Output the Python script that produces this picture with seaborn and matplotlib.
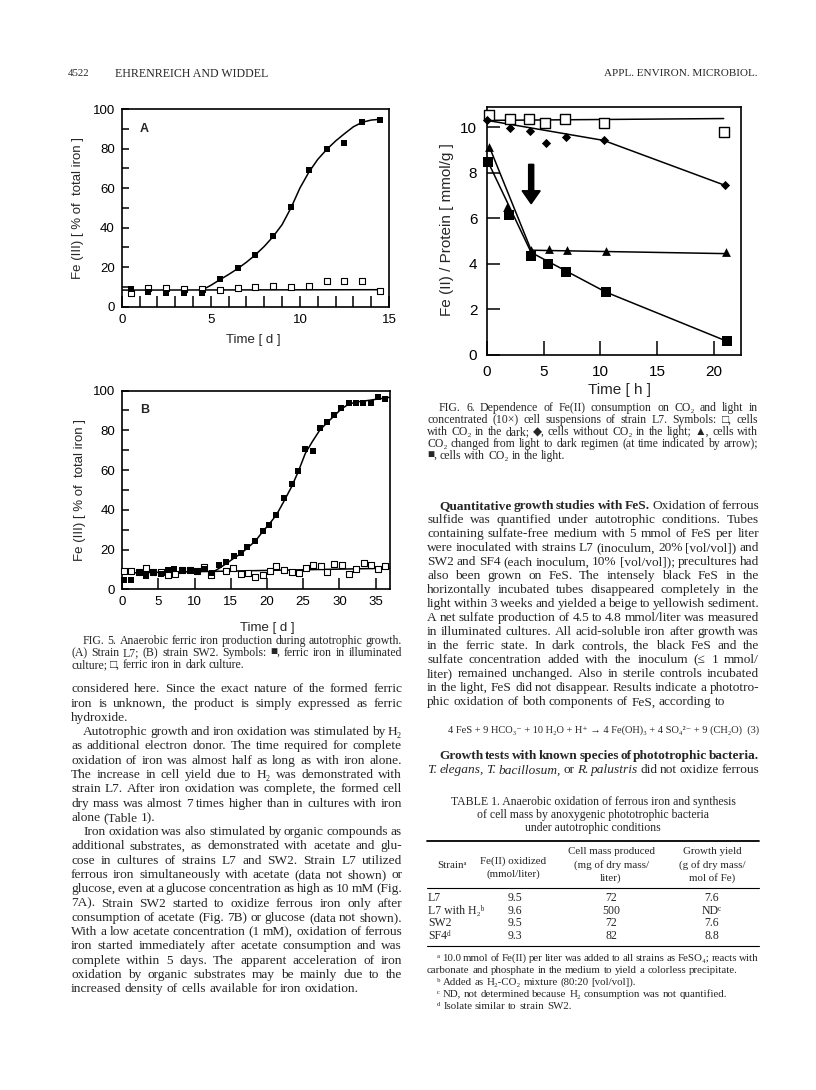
import matplotlib
matplotlib.use("Agg")
import matplotlib.pyplot as plt
import seaborn as sns

# ---- Fig. 5A: strain L7 (days, % Fe(III)) ----
a_days = [0.5, 1.5, 2.5, 3.5, 4.5, 5.5, 6.5, 7.5, 8.5, 9.5, 10.5, 11.5, 12.5, 13.5, 14.5]
a_light = [9.1, 7.4, 7.1, 6.9, 7.1, 14.0, 19.4, 26.4, 36.0, 50.2, 69.3, 79.6, 82.9, 93.4, 94.4]
a_dark = [7.1, 9.6, 9.6, 8.8, 8.8, 8.4, 9.6, 10.1, 10.6, 10.1, 10.6, 13.0, 13.0, 13.0, 8.1]
a_curve_x = [4.5, 5.0, 5.5, 6.0, 6.5, 7.0, 7.5, 8.0, 8.5, 9.0, 9.5, 10.0, 10.5, 11.0,
             11.5, 12.0, 12.5, 13.0, 13.5, 14.0, 14.5]
a_curve_y = [8.4, 10.8, 13.6, 16.3, 19.2, 22.5, 26.2, 30.5, 35.5, 41.5, 50.0, 60.0, 68.0,
             74.5, 79.5, 83.8, 87.5, 91.0, 93.3, 94.4, 94.8]
a_flat_x = [0.0, 14.5]
a_flat_y = [8.4, 8.6]

# ---- Fig. 5B: strain SW2 ----
b_light_x = [0.2, 1.25, 2.3, 3.3, 4.3, 5.3, 6.3, 7.2, 8.3, 9.4, 10.4, 11.4, 12.4, 13.4,
             14.3, 15.4, 16.4, 17.2, 18.4, 19.4, 20.3, 21.3, 22.3, 23.4, 24.3, 25.3,
             26.3, 27.3, 28.3, 29.3, 30.2, 31.3, 32.3, 33.3, 34.4, 35.3, 36.3]
b_light_y = [4.5, 4.5, 8.4, 6.7, 8.7, 7.7, 9.7, 10.2, 9.9, 9.9, 9.2, 10.0, 8.4, 12.1,
             13.9, 16.6, 18.1, 21.1, 24.5, 29.3, 32.3, 37.4, 46.1, 52.8, 59.7, 70.4,
             69.4, 81.1, 84.0, 87.7, 91.1, 93.6, 93.6, 93.6, 93.6, 96.6, 95.9]
b_dark_x = [0.2, 1.25, 2.3, 3.3, 4.3, 5.3, 6.3, 7.3, 8.3, 9.3, 10.3, 11.3, 12.3, 14.3,
            15.3, 16.4, 17.4, 18.4, 19.4, 20.4, 21.3, 22.3, 23.4, 24.4, 25.4, 26.4,
            27.4, 28.3, 29.3, 30.3, 31.3, 32.3, 33.4, 34.4, 35.4, 36.3]
b_dark_y = [9.0, 9.2, 8.9, 10.9, 8.5, 8.7, 7.2, 7.9, 9.6, 9.6, 9.3, 11.0, 7.3, 9.0,
            10.9, 7.9, 8.4, 6.3, 7.2, 9.2, 11.9, 9.9, 8.7, 8.0, 10.6, 12.4,
            11.5, 8.5, 12.5, 12.3, 7.9, 10.2, 13.1, 12.2, 10.4, 11.9]
b_curve_x = [12.4, 13.4, 14.4, 15.4, 16.4, 17.3, 18.4, 19.4, 20.3, 21.3, 22.3, 23.4,
             24.3, 25.3, 26.3, 27.3, 28.3, 29.3, 30.2, 31.3, 32.5, 34.0, 35.5, 37.0]
b_curve_y = [8.4, 10.6, 13.0, 15.6, 18.0, 20.8, 24.3, 29.0, 32.8, 37.4, 44.0, 51.6,
             59.0, 68.4, 74.5, 80.1, 83.8, 87.3, 90.5, 93.2, 94.3, 95.0, 95.8, 96.6]
b_flat_x = [0.0, 37.0]
b_flat_y = [8.2, 10.6]

# ---- Fig. 6: Fe(II)/protein (hours) ----
f6_dark_x = [0.15, 2.0, 3.7, 5.15, 6.9, 10.35, 20.9]
f6_dark_y = [10.54, 10.35, 10.35, 10.2, 10.35, 10.2, 9.8]
f6_dark_line_x = [0.15, 20.9]
f6_dark_line_y = [10.3, 10.38]
f6_noco2_x = [0.0, 2.0, 3.76, 5.2, 6.97, 10.3, 21.0]
f6_noco2_y = [10.3, 9.97, 9.85, 9.3, 9.56, 9.42, 7.45]
f6_noco2_line_x = [0.0, 10.3, 21.0]
f6_noco2_line_y = [10.3, 9.42, 7.45]
f6_switch_x = [0.18, 1.8, 3.9, 5.5, 7.06, 10.5, 21.1]
f6_switch_y = [9.15, 6.5, 4.6, 4.65, 4.6, 4.57, 4.5]
f6_switch_line_x = [0.2, 3.9, 21.1]
f6_switch_line_y = [9.15, 4.6, 4.45]
f6_light_x = [0.1, 1.9, 3.9, 5.4, 7.0, 10.5, 21.2]
f6_light_y = [8.47, 6.13, 4.35, 3.99, 3.64, 2.76, 0.61]
f6_light_line_x = [0.1, 3.9, 10.5, 21.2]
f6_light_line_y = [8.47, 4.5, 2.76, 0.6]
arrow_x = 3.9
arrow_y = [8.37, 6.64]

# ---- Table 1 ----
t_strain = ["L7", "L7 with H\u2082\u1d47", "SW2", "SF4\u1d48"]
t_fe = ["9.5", "9.6", "9.5", "9.3"]
t_mass = ["72", "500", "72", "82"]
t_yield = ["7.6", "ND\u1d9c", "7.6", "8.8"]

W, H, DPI = 816, 1090, 100
SANS = ["Liberation Sans", "DejaVu Sans"]
SERIF = ["Liberation Serif", "DejaVu Serif", "DejaVu Sans"]

sns.set_theme(style="ticks")
plt.rcParams["font.family"] = SANS
plt.rcParams["axes.linewidth"] = 1.2

fig = plt.figure(figsize=(W / DPI, H / DPI), dpi=DPI)
fig.patch.set_facecolor("white")
R = fig.canvas.get_renderer()


def box(l, t, r, b):
    return [l / W, 1 - b / H, (r - l) / W, (b - t) / H]


def txt(x, y, s, size, **kw):
    kw.setdefault("family", SERIF)
    return fig.text(x / W, 1 - y / H, s, fontsize=size, **kw)


def frame(ax, labelsize, pad):
    for s in ax.spines.values():
        s.set_color("black")
        s.set_linewidth(1.2)
    ax.tick_params(which="both", direction="in", colors="black", width=1.1,
                   labelsize=labelsize, pad=pad, top=False, right=False)
    ax.set_xlabel("")
    ax.set_ylabel("")
    ax.set_facecolor("white")


def fill_sq(ax, x, y, s):
    sns.scatterplot(x=x, y=y, marker="s", color="black", s=s, linewidth=0,
                    ax=ax, clip_on=False, zorder=3)


def open_sq(ax, x, y, s):
    sns.scatterplot(x=x, y=y, marker="s", facecolor="white", edgecolor="black",
                    s=s, linewidth=0.8, ax=ax, clip_on=False, zorder=3)


def line(ax, x, y):
    sns.lineplot(x=x, y=y, color="black", lw=1.1, sort=False, estimator=None,
                 ax=ax, zorder=2)


# ---------- Fig 5A ----------
axA = fig.add_axes(box(121.7, 109, 389, 306.7))
line(axA, a_flat_x, a_flat_y)
line(axA, a_curve_x, a_curve_y)
open_sq(axA, a_days, a_dark, 16)
fill_sq(axA, a_days, a_light, 22)
axA.set_xlim(0, 15)
axA.set_ylim(0, 100)
axA.set_xticks([0, 5, 10, 15])
axA.set_xticks(range(1, 15), minor=True)
axA.set_yticks(range(0, 101, 20))
axA.set_yticks(range(10, 100, 20), minor=True)
frame(axA, 9.5, 5)
axA.tick_params(axis="x", which="both", length=8)
axA.tick_params(axis="y", which="both", length=5)
axA.text(0.085, 0.9, "A", transform=axA.transAxes, fontsize=9, weight="bold",
         ha="center", va="center")
txt(253, 340, "Time [ d ]", 9.5, family=SANS, ha="center", va="center")
txt(78, 208, "Fe (III) [ % of  total iron ]", 9.5, family=SANS, rotation=90,
    ha="center", va="center")

# ---------- Fig 5B ----------
axB = fig.add_axes(box(122.3, 390.5, 390, 589.3))
line(axB, b_flat_x, b_flat_y)
line(axB, b_curve_x, b_curve_y)
open_sq(axB, b_dark_x, b_dark_y, 18)
fill_sq(axB, b_light_x, b_light_y, 22)
axB.set_xlim(0, 37)
axB.set_ylim(0, 100)
axB.set_xticks(range(0, 36, 5))
axB.set_yticks(range(0, 101, 20))
axB.set_yticks(range(10, 100, 20), minor=True)
frame(axB, 9.5, 5)
axB.tick_params(axis="x", which="both", length=8)
axB.tick_params(axis="y", which="both", length=5)
axB.text(0.085, 0.9, "B", transform=axB.transAxes, fontsize=9, weight="bold",
         ha="center", va="center")
txt(267, 628, "Time [ d ]", 9.5, family=SANS, ha="center", va="center")
txt(80, 490, "Fe (III) [ % of  total iron ]", 9.5, family=SANS, rotation=90,
    ha="center", va="center")

# ---------- Fig 6 ----------
ax6 = fig.add_axes(box(487, 106.7, 740.7, 355))
line(ax6, f6_dark_line_x, f6_dark_line_y)
line(ax6, f6_noco2_line_x, f6_noco2_line_y)
line(ax6, f6_switch_line_x, f6_switch_line_y)
line(ax6, f6_light_line_x, f6_light_line_y)
sns.scatterplot(x=f6_dark_x, y=f6_dark_y, marker="s", facecolor="white",
                edgecolor="black", s=45, linewidth=1.0, ax=ax6, clip_on=False, zorder=3)
sns.scatterplot(x=f6_noco2_x, y=f6_noco2_y, marker="D", color="black", s=22,
                linewidth=0, ax=ax6, clip_on=False, zorder=3)
sns.scatterplot(x=f6_switch_x, y=f6_switch_y, marker="^", color="black", s=40,
                linewidth=0, ax=ax6, clip_on=False, zorder=3)
sns.scatterplot(x=f6_light_x, y=f6_light_y, marker="s", color="black", s=45,
                linewidth=0, ax=ax6, clip_on=False, zorder=3)
ax6.arrow(arrow_x, arrow_y[0], 0, arrow_y[1] - arrow_y[0], width=0.45,
          head_width=1.6, head_length=0.57, length_includes_head=True,
          color="black", zorder=4)
ax6.set_xlim(0, 22.4)
ax6.set_ylim(0, 10.9)
ax6.set_xticks([0, 5, 10, 15, 20])
ax6.set_yticks([0, 2, 4, 6, 8, 10])
frame(ax6, 11, 7)
ax6.tick_params(axis="x", length=10)
ax6.tick_params(axis="y", length=9)
txt(619, 390, "Time [ h ]", 11, family=SANS, ha="center", va="center")
txt(447, 230, "Fe (II) / Protein [ mmol/g ]", 11, family=SANS, rotation=90,
    ha="center", va="center")

# ---------- page text ----------
txt(68, 74, "4522", 7.8, va="center")
txt(115, 74, "EHRENREICH AND WIDDEL", 8.6, va="center")
txt(758, 74, "APPL. ENVIRON. MICROBIOL.", 8.0, ha="right", va="center")


def para(x0, x1, y0, step, lines, size, indent=12):
    for i, ln in enumerate(lines):
        y = y0 + i * step + size * 0.45
        ind = 0
        just = True
        if ln.startswith(">"):
            ln = ln[1:]
            ind = indent
        if ln.endswith("~"):
            ln = ln[:-1]
            just = False
        parts = []
        for w in ln.split():
            kw = {}
            if w.startswith("**"):
                w = w[2:]
                kw["weight"] = "bold"
            elif w.startswith("//"):
                w = w[2:]
                kw["style"] = "italic"
            parts.append(txt(0, 0, w, size, va="baseline", **kw))
        widths = [p.get_window_extent(R).width for p in parts]
        gap = size * 0.25 * DPI / 72
        if just and len(parts) > 1:
            gap = max((x1 - x0 - ind - sum(widths)) / (len(parts) - 1), 1.5)
        x = x0 + ind
        for p, wd in zip(parts, widths):
            p.set_position((x / W, 1 - y / H))
            x += wd + gap


BODY, CAP = 9.6, 8.5

fig5_cap = [
    ">FIG. 5. Anaerobic ferric iron production during autotrophic growth.",
    "(A) Strain L7; (B) strain SW2. Symbols: \u25a0, ferric iron in illuminated",
    "culture; \u25a1, ferric iron in dark culture.~",
]
para(71, 402, 640, 12, fig5_cap, CAP)

left_body = [
    "considered here. Since the exact nature of the formed ferric",
    "iron is unknown, the product is simply expressed as ferric",
    "hydroxide.~",
    ">Autotrophic growth and iron oxidation was stimulated by H\u2082",
    "as additional electron donor. The time required for complete",
    "oxidation of iron was almost half as long as with iron alone.",
    "The increase in cell yield due to H\u2082 was demonstrated with",
    "strain L7. After iron oxidation was complete, the formed cell",
    "dry mass was almost 7 times higher than in cultures with iron",
    "alone (Table 1).~",
    ">Iron oxidation was also stimulated by organic compounds as",
    "additional substrates, as demonstrated with acetate and glu-",
    "cose in cultures of strains L7 and SW2. Strain L7 utilized",
    "ferrous iron simultaneously with acetate (data not shown) or",
    "glucose, even at a glucose concentration as high as 10 mM (Fig.",
    "7A). Strain SW2 started to oxidize ferrous iron only after",
    "consumption of acetate (Fig. 7B) or glucose (data not shown).",
    "With a low acetate concentration (1 mM), oxidation of ferrous",
    "iron started immediately after acetate consumption and was",
    "complete within 5 days. The apparent acceleration of iron",
    "oxidation by organic substrates may be mainly due to the",
    "increased density of cells available for iron oxidation.~",
]
para(71, 402, 688, 14.28, left_body, BODY)

fig6_cap = [
    ">FIG. 6. Dependence of Fe(II) consumption on CO\u2082 and light in",
    "concentrated (10\u00d7) cell suspensions of strain L7. Symbols: \u25a1, cells",
    "with CO\u2082 in the dark; \u25c6, cells without CO\u2082 in the light; \u25b2, cells with",
    "CO\u2082 changed from light to dark regimen (at time indicated by arrow);",
    "\u25a0, cells with CO\u2082 in the light.~",
]
para(427, 758, 407, 12, fig6_cap, CAP)

right_body = [
    ">**Quantitative **growth **studies **with **FeS. Oxidation of ferrous",
    "sulfide was quantified under autotrophic conditions. Tubes",
    "containing sulfate-free medium with 5 mmol of FeS per liter",
    "were inoculated with strains L7 (inoculum, 20% [vol/vol]) and",
    "SW2 and SF4 (each inoculum, 10% [vol/vol]); precultures had",
    "also been grown on FeS. The intensely black FeS in the",
    "horizontally incubated tubes disappeared completely in the",
    "light within 3 weeks and yielded a beige to yellowish sediment.",
    "A net sulfate production of 4.5 to 4.8 mmol/liter was measured",
    "in illuminated cultures. All acid-soluble iron after growth was",
    "in the ferric state. In dark controls, the black FeS and the",
    "sulfate concentration added with the inoculum (\u2264 1 mmol/",
    "liter) remained unchanged. Also in sterile controls incubated",
    "in the light, FeS did not disappear. Results indicate a phototro-",
    "phic oxidation of both components of FeS, according to~",
]
para(427, 759, 505, 14, right_body, BODY)

txt(759, 730, "4 FeS + 9 HCO\u2083\u207b + 10 H\u2082O + H\u207a \u2192 4 Fe(OH)\u2083 + 4 SO\u2084\u00b2\u207b"
    " + 9 (CH\u2082O)  (3)", 7.5, ha="right", va="center")

right_body2 = [
    ">**Growth **tests **with **known **species **of **phototrophic **bacteria.",
    "//T. //elegans, //T. //bacillosum, or //R. //palustris did not oxidize ferrous",
]
para(427, 759, 755, 14, right_body2, BODY)

for i, s in enumerate(["TABLE 1. Anaerobic oxidation of ferrous iron and synthesis",
                       "of cell mass by anoxygenic phototrophic bacteria",
                       "under autotrophic conditions"]):
    txt(593, 802 + 13 * i, s, 8.5, ha="center", va="center")

for y, lw in [(841, 1.3), (888, 0.8), (946, 0.8)]:
    fig.add_artist(plt.Line2D([427 / W, 759 / W], [1 - y / H, 1 - y / H],
                              color="black", lw=lw))

HDR = 7.9
txt(437, 866, "Strain\u1d43", HDR, va="center")
txt(513, 861, "Fe(II) oxidized", HDR, ha="center", va="center")
txt(513, 874, "(mmol/liter)", HDR, ha="center", va="center")
for j, s in enumerate(["Cell mass produced", "(mg of dry mass/", "liter)"]):
    txt(611, 852 + 13 * j, s, HDR, ha="center", va="center")
for j, s in enumerate(["Growth yield", "(g of dry mass/", "mol of Fe)"]):
    txt(712, 852 + 13 * j, s, HDR, ha="center", va="center")

for i in range(len(t_strain)):
    y = 898 + 12.6 * i
    txt(428, y, t_strain[i], 8.5, va="center")
    txt(515, y, t_fe[i], 8.5, ha="center", va="center")
    txt(611, y, t_mass[i], 8.5, ha="center", va="center")
    txt(712, y, t_yield[i], 8.5, ha="center", va="center")

foot = [
    ">\u1d43 10.0 mmol of Fe(II) per liter was added to all strains as FeSO\u2084; reacts with",
    "carbonate and phosphate in the medium to yield a colorless precipitate.~",
    ">\u1d47 Added as H\u2082-CO\u2082 mixture (80:20 [vol/vol]).~",
    ">\u1d9c ND, not determined because H\u2082 consumption was not quantified.~",
    ">\u1d48 Isolate similar to strain SW2.~",
]
para(427, 759, 957, 12, foot, 7.8, indent=10)

fig.savefig("out.png", dpi=DPI, facecolor="white")
